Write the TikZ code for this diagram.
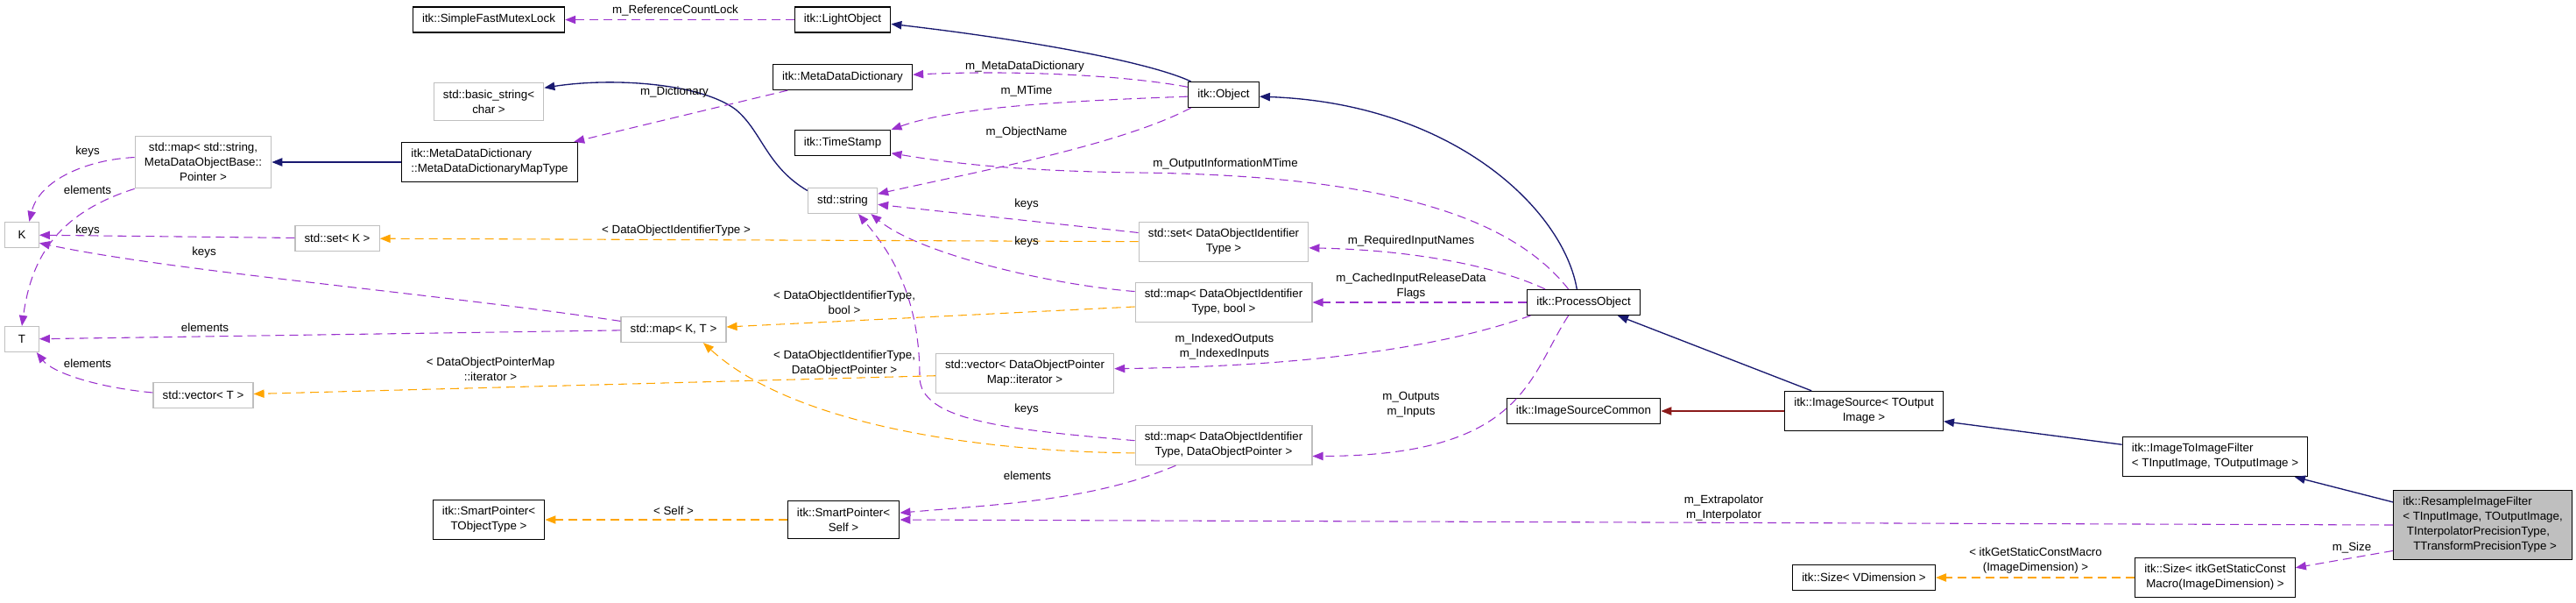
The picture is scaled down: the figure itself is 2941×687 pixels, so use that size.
\documentclass[tikz,border=0pt]{standalone}
\definecolor{usepurple}{HTML}{9A32CD}
\definecolor{tmplorange}{HTML}{FFA500}
\definecolor{inhblue}{HTML}{191970}
\definecolor{protred}{HTML}{8B1A1A}
\definecolor{extgray}{HTML}{BFBFBF}
\usepackage{fontspec}
\setmainfont{Liberation Sans}
\usetikzlibrary{
    arrows.meta
}
\tikzstyle{cls} = [
    rectangle,
    draw=black,
    line width=0.9pt,
    fill=white,
    font=\fontsize{10}{12.75}\selectfont,
    align=center,
    inner xsep=8pt,
    inner ysep=5.9pt,
    minimum height=21.75pt,
    minimum width=29pt
]
\tikzstyle{extcls} = [cls, draw=extgray]
\tikzstyle{curcls} = [cls, fill=extgray, align=left]
\tikzstyle{lbl} = [
    font=\fontsize{10}{12.75}\selectfont,
    align=center,
    inner sep=0pt
]
\tikzstyle{usage} = [
    ->,
    >={Triangle[length=9pt,width=7pt]},
    line width=0.8pt,
    dash pattern=on 7.5pt off 4.5pt,
    draw=usepurple
]
\tikzstyle{tmpl} = [usage, draw=tmplorange]
\tikzstyle{inherit} = [
    ->,
    >={Triangle[length=9pt,width=7pt]},
    line width=1pt,
    draw=inhblue
]
\tikzstyle{protinh} = [inherit, draw=protred]

\begin{document}
\begin{tikzpicture}[x=0.75pt, y=-0.75pt]
        \useasboundingbox (0,0) rectangle (2941,687);

        % Classes around itk::Object
        \node[cls] (smfl) at (558,22.5) {itk::SimpleFastMutexLock};
        \node[cls] (lobj) at (962,22.5) {itk::LightObject};
        \node[cls] (mdd) at (962,88) {itk::MetaDataDictionary};
        \node[cls] (obj) at (1397,108) {itk::Object};
        \node[cls] (ts) at (962,163) {itk::TimeStamp};
        \node[extcls] (str) at (962,229) {std::string};
        \node[extcls] (bstr) at (558,116) {std::basic\_string<\\char >};
        \node[extcls] (mstr) at (232,185) {std::map< std::string,\\MetaDataObjectBase::\\Pointer >};
        \node[cls, align=left] (mddmt) at (559,185) {itk::MetaDataDictionary\\::MetaDataDictionaryMapType};

        % std containers (left)
        \node[extcls] (K) at (25,268) {K};
        \node[extcls] (T) at (25,387) {T};
        \node[extcls] (sk) at (385,272) {std::set< K >};
        \node[extcls] (mkt) at (769,376) {std::map< K, T >};
        \node[extcls] (vt) at (232,451) {std::vector< T >};

        % ProcessObject members
        \node[extcls] (sdoi) at (1397,276) {std::set< DataObjectIdentifier\\Type >};
        \node[extcls] (mbool) at (1397,345) {std::map< DataObjectIdentifier\\Type, bool >};
        \node[extcls] (vdop) at (1170,426) {std::vector< DataObjectPointer\\Map::iterator >};
        \node[extcls] (mdop) at (1397,508) {std::map< DataObjectIdentifier\\Type, DataObjectPointer >};
        \node[cls] (sps) at (963,593) {itk::SmartPointer<\\Self >};
        \node[cls] (spt) at (558,593) {itk::SmartPointer<\\TObjectType >};

        % Filter hierarchy (right)
        \node[cls] (po) at (1808,345) {itk::ProcessObject};
        \node[cls] (isc) at (1808,469) {itk::ImageSourceCommon};
        \node[cls] (is) at (2128,469) {itk::ImageSource< TOutput\\Image >};
        \node[cls, align=left] (itif) at (2529,521) {itk::ImageToImageFilter\\< TInputImage, TOutputImage >};
        \node[curcls, anchor=east] (rif) at (2937,599) {itk::ResampleImageFilter\\< TInputImage, TOutputImage,\\\hspace*{3.5pt}TInterpolatorPrecisionType,\\\hspace*{9pt}TTransformPrecisionType >};
        \node[cls] (sz) at (2529,659) {itk::Size< itkGetStaticConst\\Macro(ImageDimension) >};
        \node[cls] (szv) at (2128,659) {itk::Size< VDimension >};

        % Inheritance
        \draw[inherit] (obj.158) .. controls (1310,70) and (1170,45) .. (lobj.-5);
        \draw[inherit] (po.117) .. controls (1785,240) and (1660,118) .. (obj.-3);
        \draw[inherit] (is) -- (po);
        \draw[inherit] (itif) -- (is);
        \draw[inherit] (rif) -- (itif);
        \draw[inherit] (mddmt) -- (mstr);
        \draw[inherit] (str.164) .. controls (875,190) and (870,150) .. (840,125) .. controls (800,95) and (700,88) .. (bstr.14);
        \draw[protinh] (is) -- (isc);

        % Members (usage)
        \draw[usage] (lobj) -- (smfl);
        \draw[usage] (obj.168) .. controls (1280,85) and (1150,80) .. (mdd.2);
        \draw[usage] (obj.183) .. controls (1220,115) and (1090,122) .. (ts.north east);
        \draw[usage] (obj.202) .. controls (1280,165) and (1120,195) .. (str.11);
        \draw[usage] (po.139) .. controls (1720,240) and (1560,200) .. (1300,197) .. controls (1150,195) and (1080,185) .. (ts.-12);
        \draw[usage] (sdoi) -- (str);
        \draw[usage] (mbool.173) .. controls (1200,325) and (1050,290) .. (str.-25);
        \draw[usage] (mdop.177) .. controls (1150,490) and (1050,480) .. (1050,430) .. controls (1050,330) and (1010,280) .. (str.-40);
        \draw[usage] (mdd) -- (mddmt);
        \draw[usage] (mstr.176) .. controls (100,182) and (45,205) .. (K.61);
        \draw[usage] (mstr.south west) .. controls (60,245) and (35,300) .. (T.north);
        \draw[usage] (sk) -- (K);
        \draw[usage] (mkt.171) .. controls (500,335) and (200,310) .. (K.-25);
        \draw[usage] (mkt) -- (T);
        \draw[usage] (vt.177) .. controls (110,442) and (60,425) .. (T.-42);
        \draw[usage] (po.161) .. controls (1700,300) and (1600,285) .. (sdoi.-4);
        \draw[usage] (po) -- (mbool);
        \draw[usage] (po.194) .. controls (1650,395) and (1500,418) .. (vdop.3);
        \draw[usage] (po.221) .. controls (1745,430) and (1740,520) .. (mdop.-7);
        \draw[usage] (mdop.203) .. controls (1250,570) and (1150,575) .. (sps.7);
        \draw[usage] (rif.west) -- (sps.east);
        \draw[usage] (rif.196) -- (sz.7);

        % Template arguments
        \draw[tmpl] (sdoi) -- (sk);
        \draw[tmpl] (mbool) -- (mkt);
        \draw[tmpl] (mdop.185) .. controls (1100,515) and (900,480) .. (mkt.-24);
        \draw[tmpl] (vdop) -- (vt);
        \draw[tmpl] (sps) -- (spt);
        \draw[tmpl] (sz) -- (szv);

        % Edge labels
        \node[lbl] (lrefcnt) at (771,12) {m\_ReferenceCountLock};
        \node[lbl] (lmdd) at (1170,76) {m\_MetaDataDictionary};
        \node[lbl] (lmtime) at (1172,104) {m\_MTime};
        \node[lbl] (lobjname) at (1172,151) {m\_ObjectName};
        \node[lbl] (loutmtime) at (1399,187) {m\_OutputInformationMTime};
        \node[lbl] (lkeysa) at (1172,233) {keys};
        \node[lbl] (lkeysb) at (1172,276) {keys};
        \node[lbl] (lkeysc) at (1172,467) {keys};
        \node[lbl] (ldict) at (770,105) {m\_Dictionary};
        \node[lbl] (lkeysd) at (100,173) {keys};
        \node[lbl] (lelema) at (100,217) {elements};
        \node[lbl] (lkeyse) at (100,263) {keys};
        \node[lbl] (lkeysf) at (233,288) {keys};
        \node[lbl] (lelemb) at (234,374) {elements};
        \node[lbl] (lelemc) at (100,415) {elements};
        \node[lbl] (lreqin) at (1611,275) {m\_RequiredInputNames};
        \node[lbl] (lcached) at (1611,327) {m\_CachedInputReleaseData\\Flags};
        \node[lbl] (lindexed) at (1398,396) {m\_IndexedOutputs\\m\_IndexedInputs};
        \node[lbl] (linout) at (1611,462) {m\_Outputs\\m\_Inputs};
        \node[lbl] (lelemd) at (1173,543) {elements};
        \node[lbl] (linterp) at (1968,580) {m\_Extrapolator\\m\_Interpolator};
        \node[lbl] (lsize) at (2685,625) {m\_Size};
        \node[lbl] (tdoi) at (772,263) {< DataObjectIdentifierType >};
        \node[lbl] (tbool) at (964,345) {< DataObjectIdentifierType,\\bool >};
        \node[lbl] (tdop) at (964,415) {< DataObjectIdentifierType,\\DataObjectPointer >};
        \node[lbl] (titer) at (560,421) {< DataObjectPointerMap\\::iterator >};
        \node[lbl] (tself) at (769,583) {< Self >};
        \node[lbl] (tdim) at (2324,640) {< itkGetStaticConstMacro\\(ImageDimension) >};
    \end{tikzpicture}
\end{document}
